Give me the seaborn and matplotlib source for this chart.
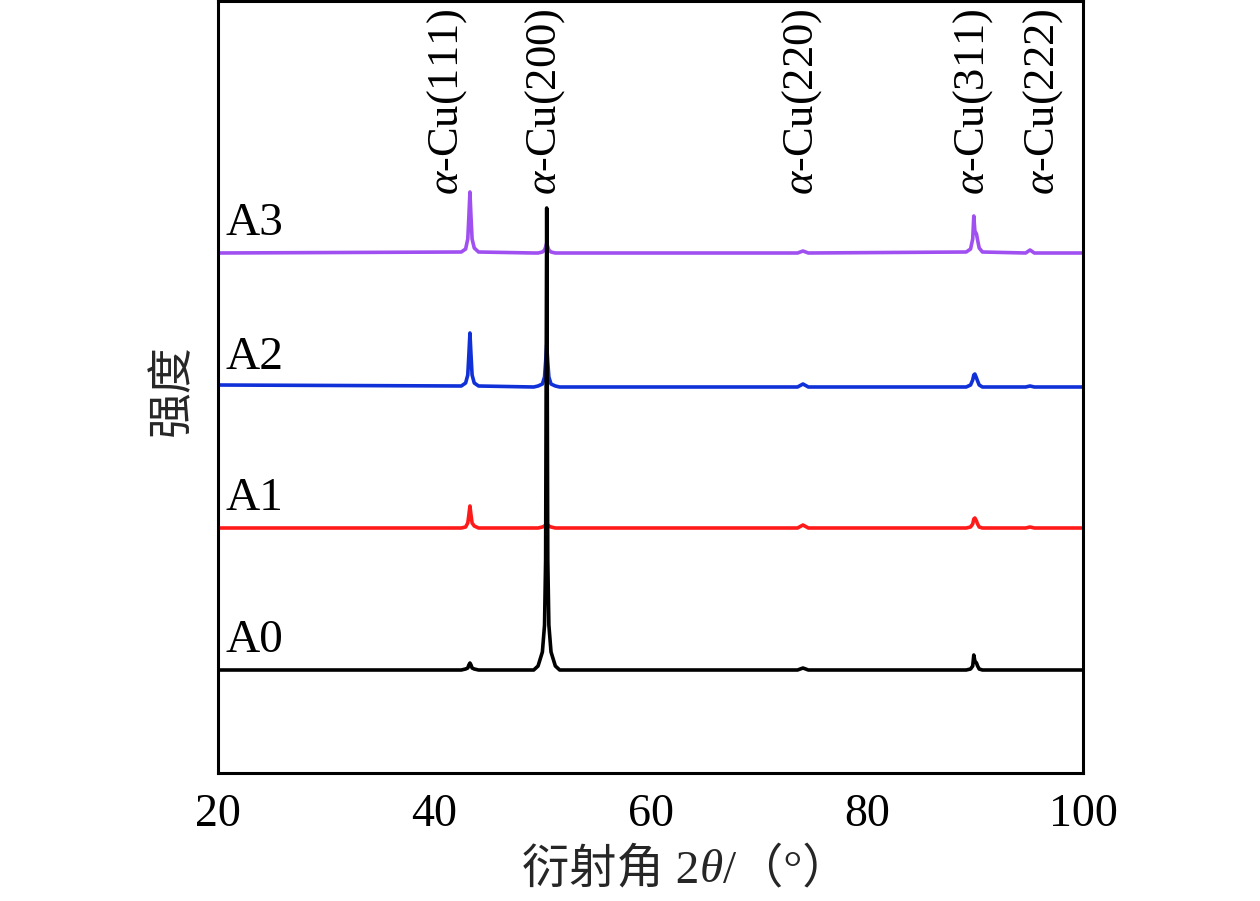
import numpy as np
import pandas as pd
import matplotlib
matplotlib.use("Agg")
import matplotlib.pyplot as plt
import seaborn as sns
from matplotlib.offsetbox import TextArea, HPacker, AnchoredOffsetbox

# ---------------- data ----------------
two_theta = [20, 42.5, 42.9, 43.1, 43.2, 43.3, 43.4, 43.5, 43.7, 44.1,
             49.2, 49.6, 50.0, 50.2, 50.3, 50.4, 50.5, 50.6, 50.8, 51.2, 51.6,
             73.6, 74.1, 74.6,
             89.2, 89.6, 89.8, 89.9, 90.0, 90.15, 90.25, 90.4, 90.7,
             94.7, 95.1, 95.5, 100]

samples = ["A0", "A1", "A2", "A3"]
offsets = [103, 245, 386, 520]          # vertical stacking offsets (a.u.)

I_A0 = [0, 0, 1, 2, 5, 7, 5, 2, 1, 0,
        0, 4, 18, 45, 110, 462, 110, 45, 18, 4, 0,
        0, 2, 0,
        0, 1, 4, 15, 9, 7, 4, 1, 0,
        0, 0, 0, 0]
I_A1 = [0, 0, 1, 5, 13, 22, 13, 5, 2, 0,
        0, 0, 1, 2, 3, 3, 3, 2, 1, 0, 0,
        0, 3, 0,
        0, 1, 4, 9, 10, 7, 4, 1, 0,
        0, 1, 0, 0]
I_A2 = [2, 1, 4, 12, 32, 54, 32, 12, 4, 1,
        0, 1, 3, 10, 25, 42, 25, 10, 3, 1, 0,
        0, 3, 0,
        0, 2, 7, 12, 13, 9, 6, 2, 0,
        0, 1, 0, 0]
I_A3 = [0, 1, 4, 14, 36, 61, 36, 14, 5, 1,
        0, 0, 1, 3, 6, 10, 6, 3, 1, 0, 0,
        0, 2, 0,
        1, 4, 14, 37, 22, 19, 13, 5, 1,
        0, 3, 0, 0]

colors = {"A0": "#000000", "A1": "#FF1A1A", "A2": "#1030D8", "A3": "#A050F0"}

peak_labels = ["(111)", "(200)", "(220)", "(311)", "(222)"]
peak_label_x = [41.2, 50.25, 74.0, 89.85, 96.3]

x_ticks = [20, 40, 60, 80, 100]

# ---------------- build long-form table ----------------
rows = []
for name, off, vals in zip(samples, offsets, [I_A0, I_A1, I_A2, I_A3]):
    for t, v in zip(two_theta, vals):
        rows.append({"2theta": t, "I": v + off, "sample": name})
df = pd.DataFrame(rows)

# ---------------- style ----------------
sns.set_theme(style="white")
plt.rcParams["font.family"] = ["Liberation Serif", "Noto Sans CJK SC", "DejaVu Sans"]
plt.rcParams["mathtext.fontset"] = "custom"
plt.rcParams["mathtext.rm"] = "Liberation Serif"
plt.rcParams["mathtext.it"] = "Liberation Serif:italic"

fig = plt.figure(figsize=(12.6, 9.01), dpi=100)
ax = fig.add_axes([218 / 1260, 1 - 773 / 901, (1083 - 218) / 1260, 772 / 901])

sns.lineplot(data=df, x="2theta", y="I", hue="sample",
             hue_order=["A3", "A2", "A1", "A0"], palette=colors,
             legend=False, linewidth=2.6, ax=ax, estimator=None)

ax.set_xlim(20, 100)
ax.set_ylim(0, 772)
ax.set_xticks(x_ticks)
ax.set_xticklabels([str(v) for v in x_ticks])
ax.set_yticks([])
ax.set_xlabel("")
ax.set_ylabel("")
ax.tick_params(axis="x", direction="in", length=10, width=1.5,
               labelsize=33, pad=15, colors="black")
for sp in ax.spines.values():
    sp.set_visible(True)
    sp.set_color("black")
    sp.set_linewidth(2.2)

# sample labels
for name, off in zip(samples, offsets):
    ax.text(20.7, off + 18, name, fontsize=34, va="baseline", ha="left",
            color="black")

# peak labels
for lab, px in zip(peak_labels, peak_label_x):
    ax.text(px, 578, r"$\mathit{\alpha}$-Cu" + lab, rotation=90,
            ha="center", va="bottom", fontsize=32, color="black")

# y label
fig.text(172 / 1260, 1 - 390 / 901, "强度", rotation=90, ha="center",
         va="center", fontsize=33, family=["Noto Sans CJK SC"])

# x label composed of pieces (italic theta)
fam = ["Liberation Serif", "Noto Sans CJK SC"]
parts = [TextArea("衍射角 2", textprops=dict(fontsize=34, family=fam)),
         TextArea("θ", textprops=dict(fontsize=34, family=["Liberation Serif"], style="italic")),
         TextArea("/（°）", textprops=dict(fontsize=34, family=fam))]
box = HPacker(children=parts, align="baseline", pad=0, sep=0)
anch = AnchoredOffsetbox(loc="center", child=box, frameon=False, pad=0,
                         borderpad=0, bbox_to_anchor=(686 / 1260, 1 - 870 / 901),
                         bbox_transform=fig.transFigure)
fig.add_artist(anch)

fig.savefig("out.png", dpi=100, facecolor="white")
